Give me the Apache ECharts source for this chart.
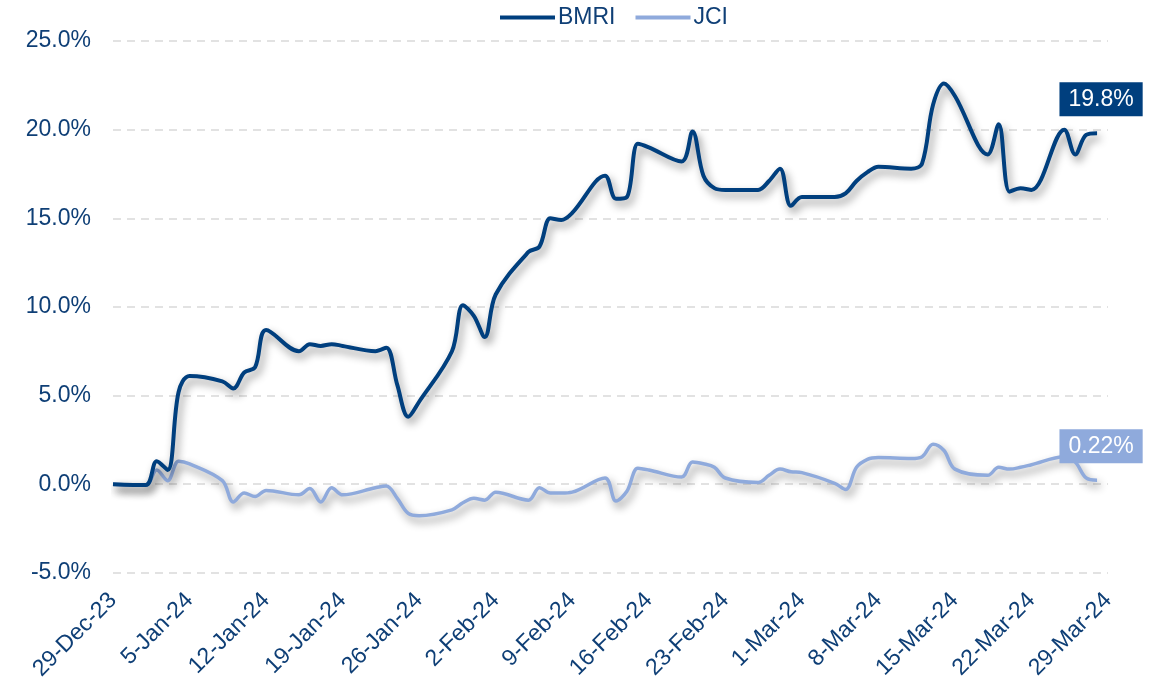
<!DOCTYPE html>
<html>
<head>
<meta charset="utf-8">
<script src="https://cdn.jsdelivr.net/npm/echarts@6/dist/echarts.min.js"></script>
<style>
    html, body { margin: 0; padding: 0; background: #fff; }
    #chart { width: 1161px; height: 683px; }
</style>
</head>
<body>
<div id="chart"></div>
<script>
    // calendar days 29-Dec-23 .. 29-Mar-24, weekends left empty (null)
    var startDay = new Date(2023, 11, 29);
    var dayCount = 92;
    var monthNames = ['Jan', 'Feb', 'Mar', 'Apr', 'May', 'Jun', 'Jul', 'Aug', 'Sep', 'Oct', 'Nov', 'Dec'];
    var days = [];
    for (var i = 0; i < dayCount; i++) {
        var d = new Date(startDay.getFullYear(), startDay.getMonth(), startDay.getDate() + i);
        days.push(d.getDate() + '-' + monthNames[d.getMonth()] + '-' + String(d.getFullYear()).slice(2));
    }

    var seriesNames = ['BMRI', 'JCI'];

    // cumulative return, % (one entry per calendar day)
    var bmri = [
        0.0, null, null, -0.05, 1.3, 0.8, 5.2, 6.1, null, null,
        5.8, 5.4, 6.3, 6.6, 8.7, null, null, 7.5, 7.9, 7.8,
        7.9, 7.8, null, null, 7.5, 7.7, 5.6, 3.8, 4.65, null,
        null, 7.5, 10.1, 9.5, 8.3, 10.7, null, null, 13.1, 13.4,
        15.0, 14.9, 15.3, null, null, 17.4, 16.1, 16.2, 19.2, 19.0,
        null, null, 18.2, 19.9, 17.4, 16.7, 16.6, null, null, 16.6,
        17.1, 17.8, 15.7, 16.2, null, null, 16.2, 16.4, 17.1, 17.6,
        17.9, null, null, 17.8, 18.1, 21.4, 22.6, 21.9, null, null,
        18.6, 20.3, 16.5, 16.7, 16.6, null, null, 20.0, 18.6, 19.7,
        19.8, null
    ];
    var jci = [
        0.0, null, null, -0.05, 0.8, 0.2, 1.3, 1.15, null, null,
        0.2, -1.0, -0.5, -0.7, -0.35, null, null, -0.6, -0.25, -1.0,
        -0.2, -0.6, null, null, -0.2, -0.1, -0.8, -1.65, -1.78, null,
        null, -1.45, -1.05, -0.8, -0.9, -0.45, null, null, -0.9, -0.2,
        -0.5, -0.5, -0.45, null, null, 0.35, -0.95, -0.4, 0.9, 0.8,
        null, null, 0.4, 1.25, 1.15, 0.95, 0.35, null, null, 0.1,
        0.5, 0.85, 0.7, 0.65, null, null, 0.05, -0.3, 0.95, 1.4,
        1.5, null, null, 1.45, 1.55, 2.25, 1.9, 0.85, null, null,
        0.5, 0.95, 0.85, 0.95, 1.1, null, null, 1.55, 1.25, 0.35,
        0.22, null
    ];
    var endDigits = [1, 2];

    var yMin = -5, yMax = 25, yStep = 5;
    var colors = ['#003F7E', '#8FAADC'];
    var textColor = '#0F3F76';
    var fontFamily = '"Liberation Sans", Arial, sans-serif';

    function buildData(values, idx) {
        var last = -1;
        values.forEach(function (v, i) { if (v !== null) last = i; });
        return values.map(function (v, i) {
            if (i !== last) return v;
            return {
                value: v,
                label: {
                    show: true,
                    position: 'top',
                    distance: 17,
                    offset: [4, 0],
                    formatter: function (p) { return p.value.toFixed(endDigits[idx]) + '%'; },
                    backgroundColor: colors[idx],
                    color: '#fff',
                    fontSize: 23,
                    fontFamily: fontFamily,
                    lineHeight: 24,
                    padding: [5, 9]
                }
            };
        });
    }

    var chart = echarts.init(document.getElementById('chart'));
    var option = {
        animation: false,
        color: colors,
        legend: {
            top: 1,
            left: 495,
            itemGap: 20,
            itemWidth: 55,
            itemHeight: 4,
            icon: 'rect',
            textStyle: { color: textColor, fontSize: 23, fontFamily: fontFamily, padding: [0, 0, 0, -2] },
            data: seriesNames
        },
        grid: { left: 113, right: 53, top: 41, bottom: 110 },
        xAxis: {
            type: 'category',
            data: days,
            boundaryGap: false,
            axisLine: { show: false },
            axisTick: { show: false },
            splitLine: { show: false },
            axisLabel: {
                interval: 6,
                rotate: 45,
                margin: 24,
                color: textColor,
                fontSize: 23,
                fontFamily: fontFamily
            }
        },
        yAxis: {
            type: 'value',
            min: yMin,
            max: yMax,
            interval: yStep,
            axisLine: { show: false },
            axisTick: { show: false },
            axisLabel: {
                margin: 22,
                color: textColor,
                fontSize: 23,
                fontFamily: fontFamily,
                formatter: function (v) { return v.toFixed(1) + '%'; }
            },
            splitLine: {
                lineStyle: { color: '#D9D9D9', width: 1.5, type: [8, 6] }
            }
        },
        series: seriesNames.map(function (name, idx) {
            return {
                name: name,
                type: 'line',
                data: buildData(idx === 0 ? bmri : jci, idx),
                connectNulls: true,
                smooth: 0.35,
                symbol: 'circle',
                symbolSize: 0,
                showSymbol: true,
                showAllSymbol: true,
                lineStyle: {
                    width: idx === 0 ? 4 : 3.5,
                    color: colors[idx],
                    shadowColor: 'rgba(0, 0, 0, 0.45)',
                    shadowBlur: 8,
                    shadowOffsetX: 3,
                    shadowOffsetY: 5
                },
                z: idx === 0 ? 3 : 2
            };
        })
    };
    chart.setOption(option);
</script>
</body>
</html>
